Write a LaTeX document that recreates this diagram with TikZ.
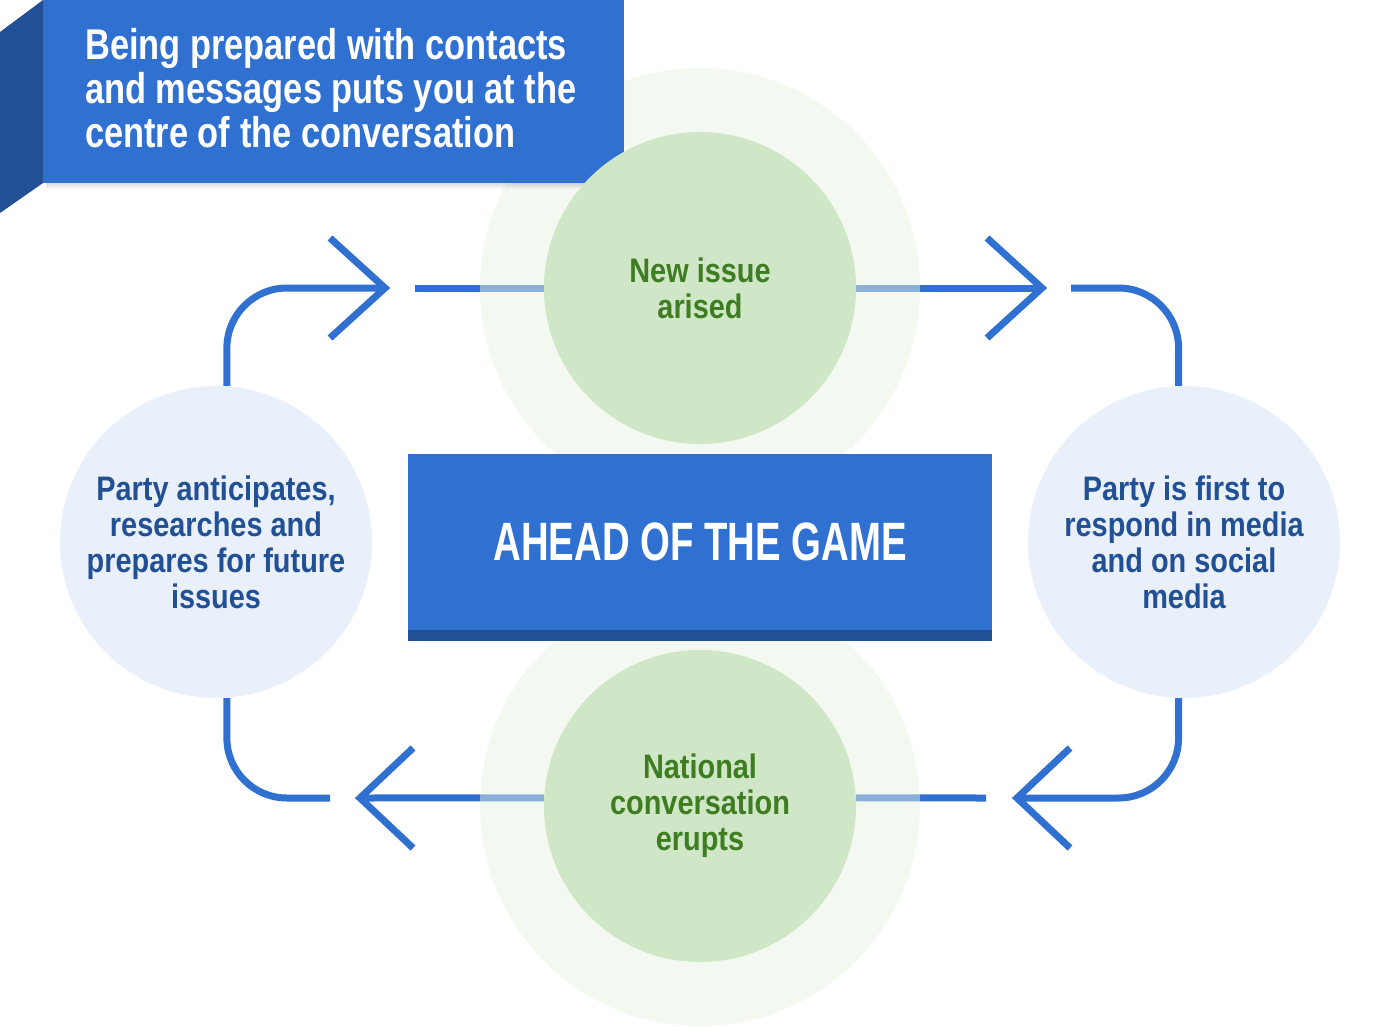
\documentclass[tikz,border=0pt]{standalone}
\usepackage{fontspec}
\newfontfamily\cyclefont[FakeStretch=0.85]{Liberation Sans}
\newfontfamily\bannerfont[FakeStretch=0.80]{Liberation Sans}
\newfontfamily\titlefont[FakeStretch=0.71]{Liberation Sans}
\usepackage{tikz}
\usetikzlibrary{positioning,backgrounds}
\definecolor{flowblue}{RGB}{48,112,208}
\definecolor{deepblue}{RGB}{34,80,148}
\definecolor{sidefill}{RGB}{233,240,250}
\definecolor{issuefill}{RGB}{207,231,198}
\definecolor{halofill}{RGB}{231,243,225}
\definecolor{issuetext}{RGB}{62,125,34}

\begin{document}
\begin{tikzpicture}[x=1pt, y=-1pt,
    flow/.style={line width=7pt, flowblue},
    stage/.style={circle, minimum size=312pt, inner sep=0pt, align=center,
        font=\cyclefont\bfseries\fontsize{34}{36}\selectfont},
    greenstage/.style={stage, fill=issuefill, text=issuetext},
    bluestage/.style={stage, fill=sidefill, text=deepblue},
    halo/.style={circle, minimum size=440pt, inner sep=0pt, fill=halofill, fill opacity=0.5}]
    \useasboundingbox (0,0) rectangle (1400,1026);

    % Banner in the corner
    \foreach \s in {1,...,6}
        \fill[black, opacity=0.025] (46,183) rectangle (624+\s/2,183+\s);
    \fill[deepblue] (0,32) -- (43,0) -- (43,183) -- (0,213) -- cycle;
    \node[fill=flowblue, anchor=north west, minimum width=581pt, minimum height=183pt,
        inner sep=0pt] (banner) at (43,0) {};
    \node[anchor=west, align=left, inner sep=0pt, text=white,
        font=\bannerfont\bfseries\fontsize{43}{44}\selectfont] (bannertext) at (85,88)
        {Being prepared with contacts\\and messages puts you at the\\centre of the conversation};

    % The four stages
    \node[greenstage] (newissue) at (700,288) {New issue\\arised};
    \node[bluestage] (respond) at (1184,542) {Party is first to\\respond in media\\and on social\\media};
    \node[greenstage] (national) at (700,806) {National\\conversation\\erupts};
    \node[bluestage] (prepare) at (216,542) {Party anticipates,\\researches and\\prepares for future\\issues};

    % Centre box
    \node[fill=flowblue, text=white, minimum width=584pt, minimum height=176pt, inner sep=0pt,
        font=\titlefont\bfseries\fontsize{54}{60}\selectfont] (game) at (700,542) {AHEAD OF THE GAME};
    \fill[deepblue] (game.south west) rectangle ++(584,11);

    % Arrow tips and gaps
    \coordinate (tipA) at (385,288);
    \coordinate (gapA) at (415,288);
    \coordinate (tipB) at (1042,288);
    \coordinate (gapB) at (1071,288);
    \coordinate (tipC) at (1017,798);
    \coordinate (gapC) at (986,798);
    \coordinate (tipD) at (360,798);
    \coordinate (gapD) at (330,798);

    \begin{scope}[on background layer]
        % Cycle lines
        \draw[flow, rounded corners=60pt] (prepare.86) |- (tipA);
        \draw[flow] (tipA) ++(-55,-50) -- (tipA) -- ++(-55,50);
        \draw[flow] (gapA) -- (newissue.west);
        \draw[flow] (newissue.east) -- (tipB);
        \draw[flow] (tipB) ++(-55,-50) -- (tipB) -- ++(-55,50);
        \draw[flow, rounded corners=60pt] (gapB) -| (respond.92);
        \draw[flow, rounded corners=60pt] (respond.-92) |- (tipC);
        \draw[flow] (tipC) ++(53,-50) -- (tipC) -- ++(53,50);
        \draw[flow] (gapC) -- (national.3);
        \draw[flow] (national.177) -- (tipD);
        \draw[flow] (tipD) ++(53,-50) -- (tipD) -- ++(53,50);
        \draw[flow, rounded corners=60pt] (gapD) -| (prepare.-86);
        % Pale rings behind the green stages
        \node[halo] (newhalo) at (newissue) {};
        \node[halo] (nationalhalo) at (national) {};
    \end{scope}
\end{tikzpicture}
\end{document}
